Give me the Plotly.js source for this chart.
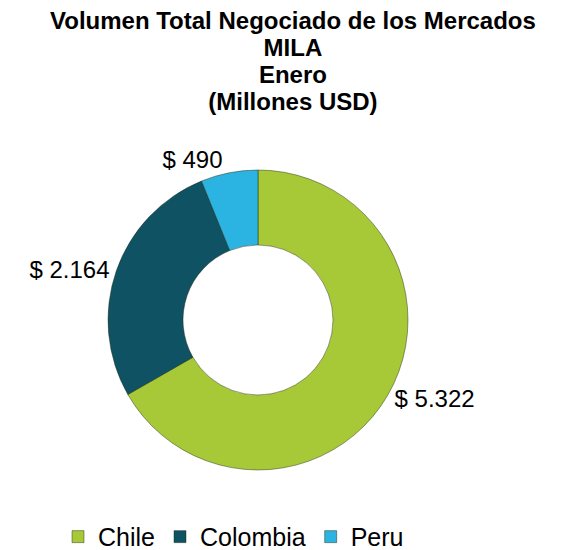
<!DOCTYPE html>
<html>
<head>
<meta charset="utf-8">
<script src="https://cdn.plot.ly/plotly-3.0.1.min.js"></script>
<style>html,body{margin:0;padding:0;background:#fff;}#chart{width:564px;height:550px;}</style>
</head>
<body>
<div id="chart"></div>
<script>
const categories = ["Chile", "Colombia", "Peru"];
const values = [5322, 2164, 490];
const colors = ["#a8c937", "#0e5264", "#2bb3e1"];
const titleLines = ["Volumen Total Negociado de los Mercados", "MILA", "Enero", "(Millones USD)"];

const FONT = "Liberation Sans, Arial, sans-serif";

const trace = {
  type: "pie",
  labels: categories,
  values: values,
  hole: 0.5,
  sort: false,
  direction: "clockwise",
  rotation: 0,
  marker: {colors: colors, line: {color: "rgba(30,40,15,0.45)", width: 1}},
  textposition: "outside",
  texttemplate: "$ %{value:,.0f}",
  textfont: {family: FONT, size: 24, color: "#000"},
  hoverinfo: "label+value",
  domain: {x: [0.1915, 0.7234], y: [0.1455, 0.6909]},
  showlegend: true
};

const layout = {
  width: 564,
  height: 550,
  margin: {l: 0, r: 0, t: 0, b: 0, autoexpand: false},
  separators: ",.",
  paper_bgcolor: "#fff",
  annotations: [{
    text: "<b>" + titleLines.join("<br>") + "</b>",
    xref: "paper", yref: "paper",
    x: 293 / 564, xanchor: "center",
    y: 1 - 5 / 550, yanchor: "top",
    align: "center",
    showarrow: false,
    font: {family: FONT, size: 24, color: "#000"}
  }],
  legend: {
    orientation: "h",
    x: 58 / 564, xanchor: "left",
    y: -0.018, yanchor: "bottom",
    font: {family: FONT, size: 25, color: "#000"},
    itemwidth: 30,
    traceorder: "normal"
  }
};

Plotly.newPlot("chart", [trace], layout, {displayModeBar: false, staticPlot: true}).then(gd => {
  // tighten the title's line spacing (Plotly default 1.3em) closer to the reference
  gd.querySelectorAll(".annotation-text tspan.line").forEach(t => {
    const dy = t.getAttribute("dy");
    if (dy && dy.endsWith("em")) {
      t.setAttribute("dy", (parseFloat(dy) / 1.3 * 1.13).toFixed(3) + "em");
    }
  });
});
</script>
</body>
</html>
